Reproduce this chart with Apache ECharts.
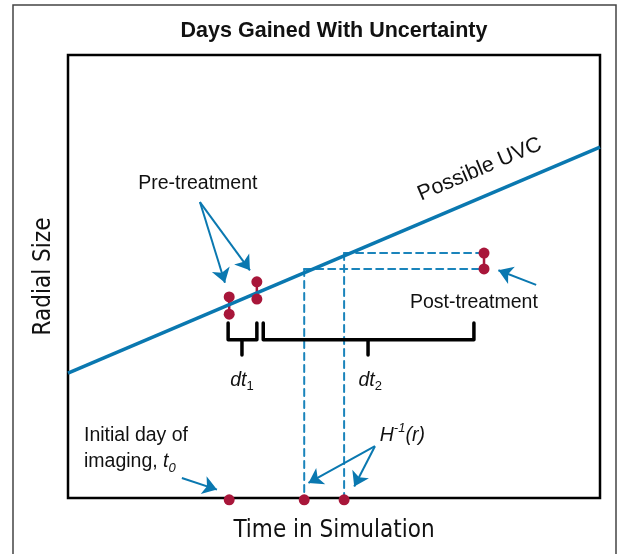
<!DOCTYPE html>
<html>
<head>
<meta charset="utf-8">
<script src="https://cdn.jsdelivr.net/npm/echarts@6/dist/echarts.min.js"></script>
<style>
html, body { margin: 0; padding: 0; background: #fff; }
#chart { width: 625px; height: 554px; }
</style>
</head>
<body>
<div id="chart"></div>
<script>
// units: x = time in simulation (0-100), y = radial size (0-100)
var uvcX = [0, 100];
var uvcY = [28.2, 79.2];

var preX = [30.3, 35.5];
var preLow = [41.5, 44.9];
var preHigh = [45.4, 48.8];

var postX = [78.2];
var postLow = [51.7];
var postHigh = [55.3];

// dots on the time axis: t0, then the two H^-1(r) times
var axisDotX = [30.3, 44.4, 51.9];
var axisDotY = -0.4;

// dashed projections: [x on axis, y level]
var dashX = [44.4, 51.9];
var dashY = [51.7, 55.3];

// brackets: [left, stem, right]
var dt1 = [30.1, 32.7, 35.5];
var dt2 = [36.7, 56.4, 76.3];
var bracketTop = 39.5;
var bracketBar = 35.7;
var bracketStem = 32.3;

// arrows: [fromX, fromY, toX, toY]
var arrows = [
  [24.8, 66.8, 29.5, 48.6],
  [24.8, 66.8, 34.2, 51.4],
  [88.0, 48.1, 80.9, 51.4],
  [21.4, 4.5, 28.0, 1.9],
  [57.7, 11.7, 45.2, 3.4],
  [57.7, 11.7, 53.8, 2.6]
];

var blue = '#0a78b0';
var dashBlue = '#1a84bb';
var red = '#a8163a';
var txt = '#111';
var fontMain = '"Liberation Sans", Arial, sans-serif';
var fontNarrow = '"Liberation Sans Narrow", "DejaVu Sans Condensed", "Liberation Sans", sans-serif';

var chart = echarts.init(document.getElementById('chart'));

function seg(a, b, color, width, type) {
  return {
    type: 'line',
    data: [a, b],
    symbol: 'none',
    silent: true,
    clip: false,
    lineStyle: { color: color, width: width, type: type || 'solid', cap: 'round', join: 'round' },
    z: 3
  };
}

var series = [];

// possible UVC
series.push({
  type: 'line',
  data: uvcX.map(function (x, i) { return [x, uvcY[i]]; }),
  symbol: 'none',
  silent: true,
  lineStyle: { color: blue, width: 3.5 },
  z: 4
});

// dashed projections
for (var i = 0; i < dashX.length; i++) {
  series.push(seg([dashX[i], dashY[i]], [postX[0], dashY[i]], dashBlue, 2, [7, 5]));
  series.push(seg([dashX[i], dashY[i]], [dashX[i], 0], dashBlue, 2, [7, 5]));
}

// red connectors for the measurement pairs
preX.forEach(function (x, i) {
  series.push(seg([x, preLow[i]], [x, preHigh[i]], red, 2.5));
});
postX.forEach(function (x, i) {
  series.push(seg([x, postLow[i]], [x, postHigh[i]], red, 2.5));
});

// brackets
[dt1, dt2].forEach(function (b) {
  var s = seg(null, null, '#000', 3.5);
  s.data = [[b[0], bracketTop], [b[0], bracketBar], [b[2], bracketBar], [b[2], bracketTop]];
  series.push(s);
  series.push(seg([b[1], bracketBar], [b[1], bracketStem], '#000', 3.5));
});

// arrows
series.push({
  type: 'lines',
  coordinateSystem: 'cartesian2d',
  silent: true,
  symbol: ['none', 'arrow'],
  symbolSize: [11, 14],
  lineStyle: { color: blue, width: 2, opacity: 1 },
  data: arrows.map(function (a) { return { coords: [[a[0], a[1]], [a[2], a[3]]] }; }),
  z: 5
});

// red dots
var dots = [];
preX.forEach(function (x, i) { dots.push([x, preLow[i]], [x, preHigh[i]]); });
postX.forEach(function (x, i) { dots.push([x, postLow[i]], [x, postHigh[i]]); });
axisDotX.forEach(function (x) { dots.push([x, axisDotY]); });
series.push({
  type: 'scatter',
  data: dots,
  symbolSize: 11,
  clip: false,
  silent: true,
  itemStyle: { color: red, opacity: 1 },
  z: 6
});

// text notes
var notes = [
  { value: [24.4, 70.9], label: { formatter: 'Pre-treatment', position: 'inside' } },
  { value: [76.3, 44.2], label: { formatter: 'Post-treatment', position: 'inside' } },
  { value: [77.4, 74.2], label: { formatter: 'Possible UVC', position: 'inside', rotate: 23, fontSize: 21.5 } },
  { value: [3.0, 11.1], label: {
      formatter: 'Initial day of\nimaging, {it|t}{isub|0}',
      position: 'right', distance: 0, align: 'left', lineHeight: 26 } },
  { value: [58.6, 14.2], label: {
      formatter: '{it|H}{sup|-1}{it|(r)}', position: 'right', distance: 0 } },
  { value: [32.7, 26.6], label: { formatter: '{it|dt}{sub|1}', position: 'inside' } },
  { value: [56.8, 26.6], label: { formatter: '{it|dt}{sub|2}', position: 'inside' } }
];
series.push({
  type: 'scatter',
  data: notes,
  symbolSize: 0,
  clip: false,
  silent: true,
  itemStyle: { opacity: 1 },
  label: {
    show: true,
    color: txt,
    opacity: 1,
    fontFamily: fontMain,
    fontSize: 19.5,
    lineHeight: 26,
    rich: {
      it: { fontStyle: 'italic', fontFamily: fontMain, fontSize: 19.5, color: txt, lineHeight: 26 },
      sub: { fontFamily: fontMain, fontSize: 13, color: txt, lineHeight: 14, verticalAlign: 'bottom' },
      isub: { fontStyle: 'italic', fontFamily: fontMain, fontSize: 13, color: txt, lineHeight: 14, verticalAlign: 'bottom' },
      sup: { fontStyle: 'italic', fontFamily: fontMain, fontSize: 13, color: txt, lineHeight: 12, verticalAlign: 'top' }
    }
  },
  z: 7
});

chart.setOption({
  animation: false,
  backgroundColor: '#fff',
  graphic: [
    {
      type: 'rect',
      shape: { x: 13, y: 5, width: 603, height: 570 },
      style: { fill: 'none', stroke: '#444', lineWidth: 1.5 },
      silent: true
    },
    {
      type: 'text',
      x: 334,
      y: 31,
      style: {
        text: 'Days Gained With Uncertainty',
        font: 'bold 21.5px "Liberation Sans", Arial, sans-serif',
        fill: txt,
        align: 'center',
        verticalAlign: 'middle'
      },
      silent: true
    }
  ],
  grid: {
    left: 68,
    right: 25,
    top: 55,
    bottom: 56,
    show: true,
    borderColor: '#000',
    borderWidth: 2.5,
    backgroundColor: 'transparent'
  },
  xAxis: {
    type: 'value',
    min: 0,
    max: 100,
    name: 'Time in Simulation',
    nameLocation: 'middle',
    nameGap: 21,
    nameTextStyle: { fontFamily: fontNarrow, fontSize: 24, color: txt, verticalAlign: 'top' },
    axisLine: { show: false },
    axisTick: { show: false },
    axisLabel: { show: false },
    splitLine: { show: false }
  },
  yAxis: {
    type: 'value',
    min: 0,
    max: 100,
    name: 'Radial Size',
    nameLocation: 'middle',
    nameGap: 12,
    nameTextStyle: { fontFamily: fontNarrow, fontSize: 24, color: txt },
    axisLine: { show: false },
    axisTick: { show: false },
    axisLabel: { show: false },
    splitLine: { show: false }
  },
  series: series
});
</script>
</body>
</html>
